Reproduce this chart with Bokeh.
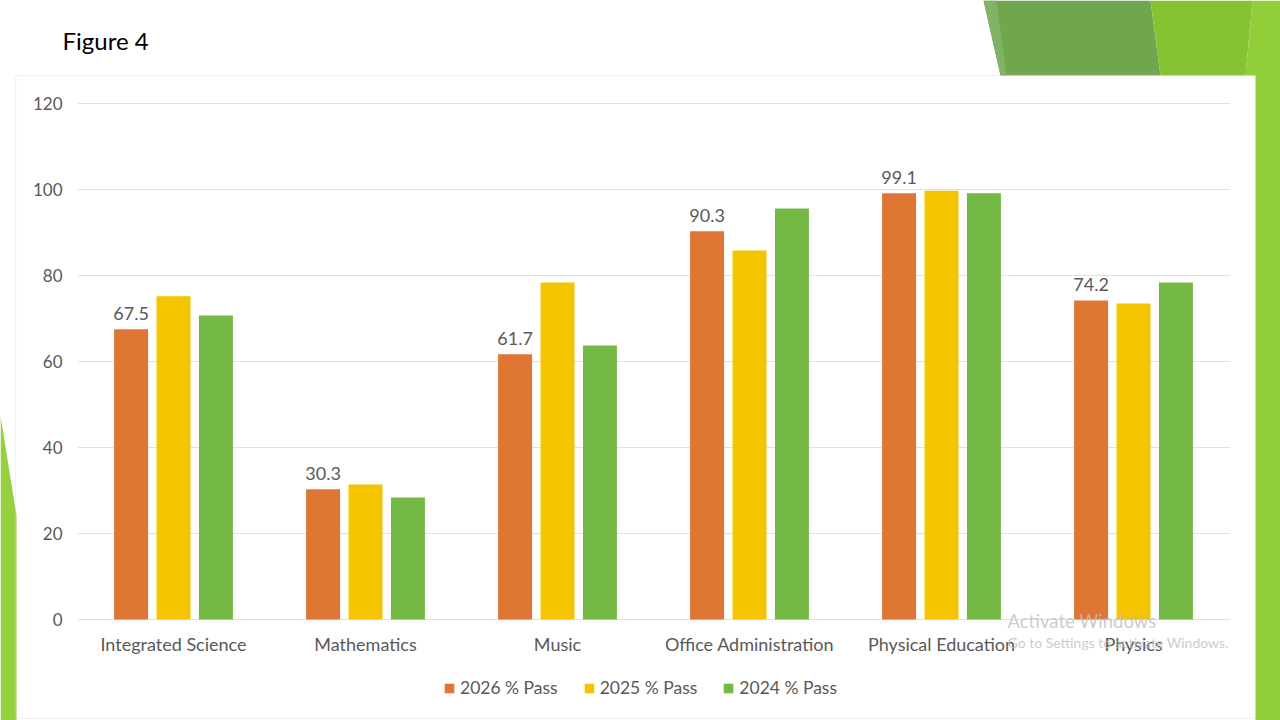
from bokeh.plotting import figure
from bokeh.models import (ColumnDataSource, Range1d, LabelSet, Legend, LegendItem, Label,
                          BoxAnnotation, PolyAnnotation, FixedTicker)
from bokeh.transform import dodge
from bokeh.core.properties import value
from bokeh.embed import file_html
from bokeh.resources import INLINE

subjects = ["Integrated Science", "Mathematics", "Music", "Office Administration",
            "Physical Education", "Physics"]
pass_2026 = [67.5, 30.3, 61.7, 90.3, 99.1, 74.2]
pass_2025 = [75.2, 31.4, 78.4, 85.8, 99.7, 73.5]
pass_2024 = [70.7, 28.4, 63.7, 95.6, 99.1, 78.4]
series_names = ["2026 % Pass", "2025 % Pass", "2024 % Pass"]
y_ticks = [0, 20, 40, 60, 80, 100, 120]

FONT = "Lato"
GREY = "#595959"

# page layout (pixels): plot area spans x 77..1229, y 103 (=120) .. 619 (=0)
W, H = 1280, 720
X0, X1, Y_TOP, Y_BOT = 77, 1229, 103, 619
band = (X1 - X0) / len(subjects)
ppu = (Y_BOT - Y_TOP) / y_ticks[-1]

centers = [i + 0.5 for i in range(len(subjects))]
src = ColumnDataSource(dict(x=centers, s2026=pass_2026, s2025=pass_2025, s2024=pass_2024,
                            lab=["%.1f" % v for v in pass_2026]))

p = figure(width=W, height=H,
           x_range=Range1d(-X0 / band, (W - X0) / band),
           y_range=Range1d(-(H - Y_BOT) / ppu, y_ticks[-1] + Y_TOP / ppu),
           output_backend="svg", toolbar_location=None)
p.min_border = 0
p.background_fill_color = "white"
p.border_fill_color = "white"
p.outline_line_color = None
p.grid.visible = False

# slide decoration (green shapes around the chart box)
deco = [
    ([983, 1150, 1160, 1000], [0, 0, 75, 75], "#6FA64E"),
    ([983, 996, 1006, 1000], [0, 0, 75, 75], "#82B266"),
    ([1150, 1252, 1245, 1160], [0, 0, 75, 75], "#86C232"),
    ([1252, 1280, 1280, 1255, 1255, 1245], [0, 0, 720, 720, 75, 75], "#92CE38"),
    ([0, 16, 16, 0], [415, 515, 720, 720], "#95D03E"),
]
for xs, ys, c in deco:
    p.add_layout(PolyAnnotation(xs=xs, ys=ys, xs_units="canvas", ys_units="canvas",
                                fill_color=c, fill_alpha=1.0, line_color=None,
                                level="underlay"))
p.add_layout(BoxAnnotation(left=15, right=1255, top=75, bottom=718, left_units="canvas",
                           right_units="canvas", top_units="canvas", bottom_units="canvas",
                           fill_color=None, line_color="#D6D6D6", line_width=1.5,
                           level="underlay"))

# horizontal gridlines across the category area
p.segment(x0=0, x1=len(subjects), y0=y_ticks, y1=y_ticks, line_color="#E0E0E0",
          line_width=1)

offsets = [-0.221, 0.0, 0.221]
colors = ["#E07634", "#F5C400", "#74B944"]
cols = ["s2026", "s2025", "s2024"]
items = []
for col, off, c, name in zip(cols, offsets, colors, series_names):
    r = p.vbar(x=dodge("x", off), top=col, width=0.177, source=src,
               fill_color=c, line_color=None)
    items.append(LegendItem(label=name, renderers=[r]))

p.add_layout(LabelSet(x=dodge("x", offsets[0]), y="s2026", text="lab", source=src,
                      text_align="center", text_baseline="bottom", y_offset=9,
                      text_font=value(FONT), text_font_size="18px", text_color=GREY))

p.xaxis.ticker = FixedTicker(ticks=centers, minor_ticks=[])
p.xaxis.major_label_overrides = {cx: s for cx, s in zip(centers, subjects)}
p.xaxis.fixed_location = 0
p.yaxis.ticker = FixedTicker(ticks=y_ticks, minor_ticks=[])
p.yaxis.fixed_location = 0
for ax in (p.xaxis, p.yaxis):
    ax.axis_line_color = None
    ax.major_tick_line_color = None
    ax.minor_tick_line_color = None
    ax.major_tick_out = 0
    ax.major_tick_in = 0
    ax.major_label_text_font = FONT
    ax.major_label_text_color = GREY
p.xaxis.major_label_text_font_size = "18px"
p.yaxis.major_label_text_font_size = "17px"
p.yaxis.major_label_standoff = 15
p.xaxis.major_label_standoff = 13

legend = Legend(items=items, orientation="horizontal", location=(443, 22),
                label_text_font=FONT, label_text_font_size="17.5px",
                label_text_color=GREY, glyph_width=12, glyph_height=12,
                label_standoff=5, spacing=25, border_line_color=None,
                background_fill_alpha=0)
p.add_layout(legend)

p.add_layout(Label(x=62, y=40, x_units="canvas", y_units="canvas", text="Figure 4",
                   text_font=FONT, text_font_size="24px", text_color="black",
                   text_baseline="middle"))
p.add_layout(Label(x=1007, y=620, x_units="canvas", y_units="canvas",
                   text="Activate Windows", text_font=FONT, text_font_size="18.5px",
                   text_color="#BEBEBE", text_alpha=0.8, text_baseline="middle"))
p.add_layout(Label(x=1007, y=642, x_units="canvas", y_units="canvas",
                   text="Go to Settings to activate Windows.", text_font=FONT,
                   text_font_size="14px", text_color="#BEBEBE", text_alpha=0.8,
                   text_baseline="middle"))

open("out.html", "w").write(file_html(p, INLINE))
